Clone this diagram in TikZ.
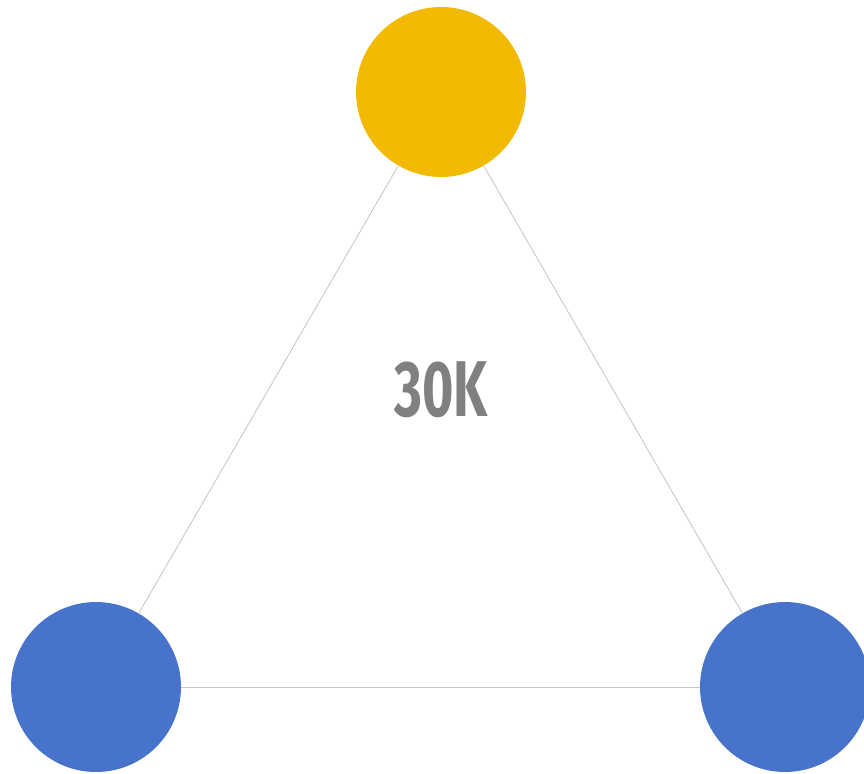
\documentclass[tikz,border=0pt]{standalone}
\usepackage{fontspec}
\newfontfamily\numfont{Fira Sans}
\definecolor{gold}{RGB}{242,186,2}
\definecolor{steel}{RGB}{71,116,202}
\definecolor{edgegray}{RGB}{200,200,200}
\definecolor{textgray}{RGB}{128,128,128}
\tikzset{
  dot/.style={circle, minimum size=3.4cm, inner sep=0pt},
  link/.style={draw=edgegray, line width=0.5pt}
}
\begin{document}
\begin{tikzpicture}[x=0.02cm, y=-0.02cm]
\useasboundingbox (0,0) rectangle (864,773);
\clip (0,0) rectangle (864,773);
% nodes
\node[dot, fill=gold] (top) at (441, 92) {};
\node[dot, fill=steel] (left) at (96, 687) {};
\node[dot, fill=steel] (right) at (785, 687) {};
\node[text=textgray] (val) at (441, 390) {\scalebox{0.68}[1]{\numfont\bfseries\fontsize{45}{45}\selectfont 30K}};
% edges
\draw[link] (top) -- (left);
\draw[link] (top) -- (right);
\draw[link] (left) -- (right);
\end{tikzpicture}
\end{document}
